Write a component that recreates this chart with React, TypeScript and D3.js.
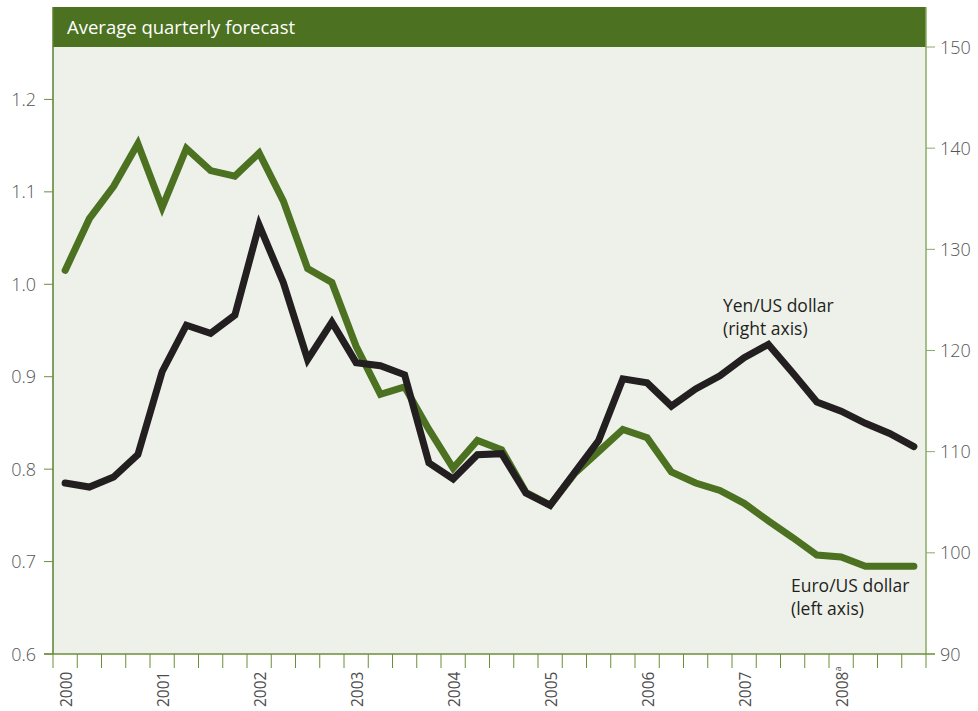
import React from "react";
import * as d3 from "d3";

const years = ["2000", "2001", "2002", "2003", "2004", "2005", "2006", "2007", "2008"];
const euro = [1.015, 1.071, 1.106, 1.152, 1.083, 1.147, 1.123, 1.117, 1.142, 1.09, 1.017, 1.002,
  0.933, 0.881, 0.889, 0.843, 0.801, 0.831, 0.821, 0.775, 0.761, 0.795, 0.819, 0.843,
  0.834, 0.797, 0.785, 0.777, 0.763, 0.744, 0.726, 0.707, 0.705, 0.695, 0.695, 0.695];
const yen = [106.9, 106.5, 107.5, 109.7, 117.9, 122.5, 121.7, 123.5, 132.4, 126.7, 119.1, 122.8,
  118.8, 118.5, 117.6, 108.9, 107.3, 109.7, 109.8, 105.9, 104.7, 107.9, 111.1, 117.2,
  116.8, 114.5, 116.2, 117.5, 119.3, 120.6, 117.8, 114.9, 114.0, 112.8, 111.8, 110.5];
const leftTicks = [0.6, 0.7, 0.8, 0.9, 1.0, 1.1, 1.2];
const rightTicks = [90, 100, 110, 120, 130, 140, 150];

const GREEN = "#4b7121";
const BLACK = "#231f20";
const FONT = "'Open Sans', sans-serif";

export default function App() {
  const L = 53, R = 926, TOP = 7, HB = 47, B = 654;
  const x = d3.scaleLinear().domain([0, 36]).range([L, R]);
  const yL = d3.scaleLinear().domain([0.6, 1.3]).range([B, TOP]);
  const yR = d3.scaleLinear().domain([90, 150]).range([B, HB]);
  const lineE = d3.line<number>().x((_, i) => x(i + 0.5)).y((d) => yL(d));
  const lineY = d3.line<number>().x((_, i) => x(i + 0.5)).y((d) => yR(d));

  return (
    <svg width={978} height={711} style={{ position: "absolute", left: 0, top: 0, background: "#fff" }} fontFamily={FONT}>
      <rect x={L} y={HB} width={R - L} height={B - HB} fill="#eef1ea" />
      <rect x={L} y={TOP} width={R - L} height={HB - TOP} fill={GREEN} />
      <text x={67} y={34} fill="#fff" fontSize={18.5}>Average quarterly forecast</text>
      <line x1={L} x2={L} y1={TOP} y2={B} stroke="#5a7f2e" strokeWidth={1.5} />
      <line x1={R} x2={R} y1={TOP} y2={B} stroke="#8aab63" strokeWidth={1.5} />
      <line x1={44} x2={935} y1={B} y2={B} stroke="#6b8e3a" strokeWidth={1.5} />
      {leftTicks.map((t) => (
        <g key={"l" + t}>
          <line x1={44} x2={L} y1={yL(t)} y2={yL(t)} stroke="#6b8e3a" strokeWidth={1} />
          <text x={36} y={yL(t) + 6.5} textAnchor="end" fontSize={18} fontWeight={300} fill="#555">{t.toFixed(1)}</text>
        </g>
      ))}
      {rightTicks.map((t) => (
        <g key={"r" + t}>
          <line x1={R} x2={935} y1={yR(t)} y2={yR(t)} stroke="#8aab63" strokeWidth={1} />
          <text x={940} y={yR(t) + 6.5} fontSize={18} fontWeight={300} fill="#555">{t}</text>
        </g>
      ))}
      {d3.range(37).map((i) => (
        <line key={"x" + i} x1={x(i)} x2={x(i)} y1={B} y2={668} stroke="#6b8e3a" strokeWidth={1} />
      ))}
      {years.map((yr, k) => (
        <text key={yr} transform={`translate(${x(k * 4 + 0.5) + 7},707) rotate(-90)`} textAnchor="start" fontSize={15.5} fill="#4d4d4d">
          {yr}
          {yr === "2008" ? <tspan fontSize={9} dy={-7}>a</tspan> : null}
        </text>
      ))}
      <path d={lineE(euro) || ""} fill="none" stroke={GREEN} strokeWidth={7} strokeLinecap="round" strokeLinejoin="miter" />
      <path d={lineY(yen) || ""} fill="none" stroke={BLACK} strokeWidth={7} strokeLinecap="round" strokeLinejoin="miter" />
      <text x={723} y={312} fontSize={17.5} fill={BLACK}>Yen/US dollar</text>
      <text x={723} y={335} fontSize={17.5} fill={BLACK}>(right axis)</text>
      <text x={791} y={592} fontSize={17.5} fill={BLACK}>Euro/US dollar</text>
      <text x={791} y={615} fontSize={17.5} fill={BLACK}>(left axis)</text>
    </svg>
  );
}
